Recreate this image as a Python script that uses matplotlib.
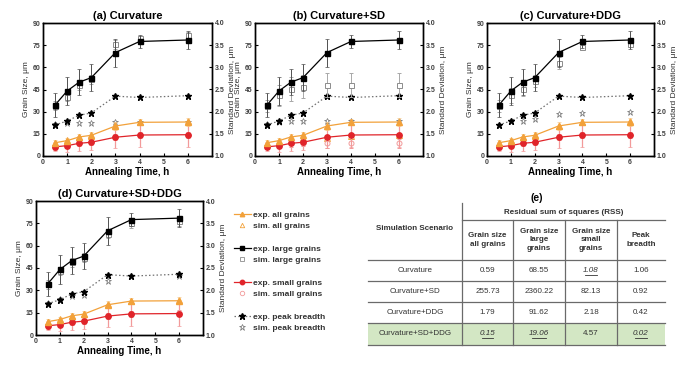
import matplotlib
matplotlib.use('Agg')
import matplotlib.pyplot as plt
from matplotlib.lines import Line2D
from matplotlib.patches import Rectangle

plt.rcParams['font.family'] = ['Liberation Sans', 'DejaVu Sans']

W, H = 692, 370

# ---------------- data ----------------
times = [0.5, 1, 1.5, 2, 3, 4, 6]

exp_all = [9.0, 10.4, 12.9, 14.0, 20.3, 22.8, 23.0]
exp_all_err = [2.0, 2.0, 2.0, 2.0, 2.5, 2.0, 2.5]
exp_large = [34.5, 44.0, 50.0, 53.0, 70.0, 77.5, 78.5]
exp_large_err = [8.0, 9.5, 9.0, 9.0, 9.5, 4.5, 6.0]
exp_small = [6.2, 7.0, 8.6, 9.3, 12.7, 14.2, 14.4]
exp_small_err = [3.0, 4.0, 5.0, 5.0, 7.5, 8.0, 8.5]
exp_peak = [1.70, 1.79, 1.92, 1.97, 2.35, 2.32, 2.36]

titles = ['(a) Curvature', '(b) Curvature+SD', '(c) Curvature+DDG', '(d) Curvature+SD+DDG']

sim_all_a = [8.8, 10.5, 12.8, 13.8, 20.8, 23.0, 23.5]
sim_large_a = [34.0, 40.0, 48.0, 52.0, 75.5, 80.0, 82.0]
sim_large_err_a = [3.0, 3.0, 3.0, 3.0, 3.0, 1.5, 2.0]
sim_small_a = [6.3, 7.2, 8.6, 9.4, 12.8, 14.2, 14.5]
sim_small_err_a = [2.0, 2.0, 2.0, 2.0, 2.0, 2.0, 2.0]
sim_peak_a = [1.72, 1.74, 1.74, 1.74, 1.76, 1.76, 1.76]

sim_all_b = [8.0, 9.5, 11.0, 12.0, 12.5, 13.5, 14.0]
sim_large_b = [34.0, 41.0, 45.5, 47.0, 48.0, 48.0, 48.0]
sim_large_err_b = [4.0, 7.0, 8.0, 8.0, 8.0, 8.0, 8.0]
sim_small_b = [6.5, 7.5, 8.5, 9.0, 8.5, 8.5, 8.5]
sim_small_err_b = [2.0, 2.0, 2.5, 2.5, 3.0, 3.0, 3.0]
sim_peak_b = [1.72, 1.77, 1.80, 1.79, 1.80, 1.79, 1.80]

sim_all_c = [8.8, 10.5, 12.8, 13.8, 20.5, 23.0, 23.5]
sim_large_c = [34.0, 41.0, 45.5, 51.0, 63.0, 74.0, 76.0]
sim_large_err_c = [4.0, 5.0, 5.0, 4.0, 4.0, 2.0, 2.0]
sim_small_c = [6.3, 7.2, 8.6, 9.4, 12.8, 14.2, 14.5]
sim_small_err_c = [2.0, 2.0, 2.0, 2.0, 2.0, 2.0, 2.0]
sim_peak_c = [1.70, 1.78, 1.79, 1.83, 1.95, 1.98, 1.99]

sim_all_d = [8.8, 10.5, 12.8, 13.8, 20.5, 23.0, 23.5]
sim_large_d = [34.0, 43.0, 49.0, 52.0, 68.0, 75.0, 76.5]
sim_large_err_d = [3.0, 3.0, 3.0, 3.0, 3.0, 3.0, 3.0]
sim_small_d = [6.3, 7.2, 8.6, 9.4, 12.8, 14.2, 14.5]
sim_small_err_d = [2.0, 2.0, 2.0, 2.0, 2.0, 2.0, 2.0]
sim_peak_d = [1.71, 1.80, 1.87, 1.90, 2.22, 2.31, 2.32]

x_ticks = [0, 1, 2, 3, 4, 5, 6]
y_ticks = [0, 15, 30, 45, 60, 75, 90]
y2_ticks = [1.0, 1.5, 2.0, 2.5, 3.0, 3.5, 4.0]

table_scenarios = ['Curvature', 'Curvature+SD', 'Curvature+DDG', 'Curvature+SD+DDG']
rss_all = ['0.59', '255.73', '1.79', '0.15']
rss_large = ['68.55', '2360.22', '91.62', '19.06']
rss_small = ['1.08', '82.13', '2.18', '4.57']
rss_peak = ['1.06', '0.92', '0.42', '0.02']
col_headers = ['Grain size\nall grains', 'Grain size\nlarge\ngrains',
               'Grain size\nsmall\ngrains', 'Peak\nbreadth']

# ---------------- style ----------------
ORANGE = '#F2A13A'
RED = '#E0242A'
LRED = '#F29A9A'
GREY = '#8C8C8C'
MS = 3.6
STAR = 4.8


def px(l, t, r, b):
    return [l / W, 1 - b / H, (r - l) / W, (b - t) / H]


fig = plt.figure(figsize=(W / 100, H / 100), dpi=100)

sims = [
    (sim_all_a, sim_large_a, sim_large_err_a, sim_small_a, sim_small_err_a, sim_peak_a),
    (sim_all_b, sim_large_b, sim_large_err_b, sim_small_b, sim_small_err_b, sim_peak_b),
    (sim_all_c, sim_large_c, sim_large_err_c, sim_small_c, sim_small_err_c, sim_peak_c),
    (sim_all_d, sim_large_d, sim_large_err_d, sim_small_d, sim_small_err_d, sim_peak_d),
]
rects = [px(43, 23, 212, 156), px(255, 23, 423, 156), px(487, 23, 654, 156), px(36, 201, 203, 335)]

for rect, title, sim in zip(rects, titles, sims):
    s_all, s_large, s_large_err, s_small, s_small_err, s_peak = sim
    ax = fig.add_axes(rect)
    ax2 = ax.twinx()
    # sim (open) markers
    ax.errorbar(times, s_large, yerr=s_large_err, fmt='s', ms=MS, mfc='white', mec=GREY,
                mew=0.7, ecolor='#A8A8A8', elinewidth=0.7, capsize=1.3, capthick=0.5, zorder=2)
    ax.errorbar(times, s_small, yerr=s_small_err, fmt='o', ms=MS, mfc='white', mec=LRED,
                mew=0.7, ecolor=LRED, elinewidth=0.7, capsize=1.3, capthick=0.5, zorder=2)
    ax.plot(times, s_all, '^', ms=MS + 0.4, mfc='white', mec=ORANGE, mew=0.7, zorder=2)
    # exp
    ax.errorbar(times, exp_large, yerr=exp_large_err, fmt='-s', color='black', ms=MS,
                lw=0.9, ecolor='#505050', elinewidth=0.7, capsize=1.3, capthick=0.5, zorder=4)
    ax.errorbar(times, exp_small, yerr=exp_small_err, fmt='-o', color=RED, ms=MS + 0.3,
                lw=0.9, ecolor=LRED, elinewidth=0.9, capsize=1.3, capthick=0.5, zorder=4)
    ax.errorbar(times, exp_all, yerr=exp_all_err, fmt='-^', color=ORANGE, ms=MS + 0.4,
                lw=0.9, ecolor='#F7C98A', elinewidth=0.9, capsize=1.3, capthick=0.5, zorder=4)
    # peak breadth on right axis
    ax2.plot(times, s_peak, '*', ms=STAR, mfc='white', mec='#707070', mew=0.5, zorder=3)
    ax2.plot(times, exp_peak, linestyle=(0, (1.2, 1.8)), color='#707070', lw=0.9, zorder=3)
    ax2.plot(times, exp_peak, '*', ms=STAR, color='black', zorder=4)

    ax.set_xlim(0, 7)
    ax.set_ylim(0, 90)
    ax2.set_ylim(1.0, 4.0)
    ax.set_xticks(x_ticks)
    ax.set_yticks(y_ticks)
    ax2.set_yticks(y2_ticks)
    ax2.set_yticklabels([f'{v:.1f}' for v in y2_ticks])
    for a in (ax, ax2):
        a.tick_params(direction='in', length=2.5, width=0.8, labelsize=5, pad=2,
                      labelcolor='#404040')
        for lab in a.get_xticklabels() + a.get_yticklabels():
            lab.set_fontweight('bold')
        for sp in a.spines.values():
            sp.set_linewidth(1.0)
    ax.set_title(title, fontsize=8, fontweight='bold', pad=3)
    ax.set_xlabel('Annealing Time, h', fontsize=7, fontweight='bold', labelpad=1)
    ax.set_ylabel('Grain Size, \u03bcm', fontsize=6, labelpad=2, color='#303030')
    ax2.set_ylabel('Standard Deviation, \u03bcm', fontsize=6, labelpad=3, color='#303030')
    ax.set_zorder(ax2.get_zorder() + 1)
    ax.patch.set_visible(False)

# ---------------- legend ----------------
blank = Line2D([], [], linestyle='none')
handles = [
    Line2D([], [], color=ORANGE, marker='^', ms=3.2, lw=0.9),
    Line2D([], [], linestyle='none', marker='^', ms=3.2, mfc='white', mec=ORANGE, mew=0.6),
    blank,
    Line2D([], [], color='black', marker='s', ms=2.8, lw=0.9),
    Line2D([], [], linestyle='none', marker='s', ms=2.8, mfc='white', mec=GREY, mew=0.6),
    blank,
    Line2D([], [], color=RED, marker='o', ms=3.2, lw=0.9),
    Line2D([], [], linestyle='none', marker='o', ms=3.2, mfc='white', mec=LRED, mew=0.6),
    blank,
    Line2D([], [], color='#707070', linestyle=(0, (1.2, 1.8)), lw=0.9, marker='*', ms=4.5,
           mfc='black', mec='black'),
    Line2D([], [], linestyle='none', marker='*', ms=4.5, mfc='white', mec='#707070', mew=0.5),
]
labels = ['exp. all grains', 'sim. all grains', '',
          'exp. large grains', 'sim. large grains', '',
          'exp. small grains', 'sim. small grains', '',
          'exp. peak breadth', 'sim. peak breadth']
leg = fig.legend(handles, labels, loc='upper left', bbox_to_anchor=(234 / W, 1 - 211 / H),
                 frameon=False, fontsize=6, handlelength=2.0, handletextpad=0.3,
                 labelspacing=0.42, borderaxespad=0, borderpad=0)
for t in leg.get_texts():
    t.set_fontweight('bold')
    t.set_color('#333333')

# ---------------- table (e) ----------------
fig.text(537 / W, 1 - 198 / H, '(e)', fontsize=7.5, fontweight='bold', ha='center', va='center')
axt = fig.add_axes(px(350, 195, 692, 350))
axt.set_xlim(350, 692)
axt.set_ylim(350, 195)
axt.axis('off')

x_left, x_right = 368, 665
col_x = [368, 462, 513, 565, 617, 665]
row_y = [203, 220, 260, 281, 302, 323, 345]
LC = '#6a6a6a'

# highlight best scenario row
axt.add_patch(Rectangle((x_left, row_y[5]), x_right - x_left, row_y[6] - row_y[5],
                        facecolor='#D3E7C4', edgecolor='none', zorder=0))
# lines
axt.plot([col_x[1], x_right], [row_y[1], row_y[1]], color=LC, lw=0.9)
for yy in row_y[2:]:
    axt.plot([x_left, x_right], [yy, yy], color=LC, lw=0.9)
axt.plot([col_x[1], col_x[1]], [row_y[0], row_y[6]], color=LC, lw=0.9)
for xx in col_x[2:5]:
    axt.plot([xx, xx], [row_y[1], row_y[6]], color=LC, lw=0.9)

hfont = dict(fontsize=5.8, fontweight='bold', color='#333333', ha='center', va='center')
axt.text((col_x[0] + col_x[1]) / 2, 229, 'Simulation Scenario', **hfont)
axt.text((col_x[1] + col_x[5]) / 2, (row_y[0] + row_y[1]) / 2 + 1, 'Residual sum of squares (RSS)', **hfont)
for j, h in enumerate(col_headers):
    axt.text((col_x[j + 1] + col_x[j + 2]) / 2, (row_y[1] + row_y[2]) / 2, h,
             linespacing=1.25, **hfont)

cols = [rss_all, rss_large, rss_small, rss_peak]
best = [min(range(len(c)), key=lambda i: float(c[i])) for c in cols]
for i, name in enumerate(table_scenarios):
    yc = (row_y[i + 2] + row_y[i + 3]) / 2
    axt.text((col_x[0] + col_x[1]) / 2, yc, name, fontsize=5.8, color='#333333',
             ha='center', va='center')
    for j, c in enumerate(cols):
        xc = (col_x[j + 1] + col_x[j + 2]) / 2
        if best[j] == i:
            axt.text(xc, yc, c[i], fontsize=5.8, color='#333333', style='italic',
                     ha='center', va='center')
            half = 2.1 * len(c[i]) / 2 + 1.5
            axt.plot([xc - half, xc + half], [yc + 4.3, yc + 4.3], color='#333333', lw=0.6)
        else:
            axt.text(xc, yc, c[i], fontsize=5.8, color='#333333', ha='center', va='center')

fig.savefig('out.png', dpi=100)
